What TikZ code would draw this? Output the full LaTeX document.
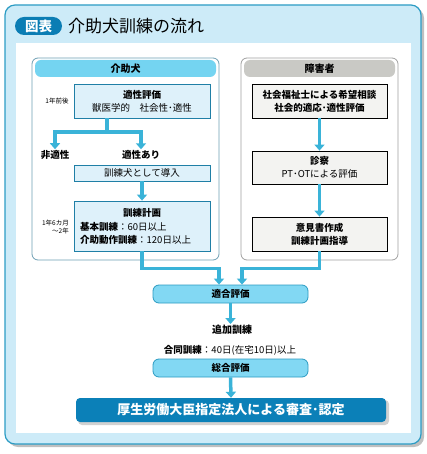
\documentclass[tikz,border=0pt]{standalone}
\usepackage{fontspec}
\setmainfont{Noto Sans CJK JP}
\usetikzlibrary{arrows.meta,calc}
\definecolor{framebg}{HTML}{CDEBF8}
\definecolor{frameline}{HTML}{2C9CC4}
\definecolor{titleblue}{HTML}{0B7DB4}
\definecolor{headblue}{HTML}{74D4F1}
\definecolor{boxblue}{HTML}{DEF1FA}
\definecolor{boxline}{HTML}{1F7FA6}
\definecolor{panelline}{HTML}{6E9FB4}
\definecolor{panelgray}{HTML}{A0A0A0}
\definecolor{arrowc}{HTML}{3AB3D8}
\definecolor{headgray}{HTML}{C9C9C5}
\definecolor{boxgray}{HTML}{F3F3F1}
\definecolor{pillfill}{HTML}{82D8F3}
\definecolor{pillline}{HTML}{2B9BC2}
\definecolor{finalblue}{HTML}{0B80B8}
\tikzset{
  txt/.style={font=\fontsize{9.5}{13}\selectfont, inner sep=1pt},
  btxt/.style={font=\bfseries\fontsize{9.5}{13}\selectfont, inner sep=1pt},
  small/.style={font=\fontsize{6.5}{8}\selectfont, inner sep=0pt},
  bluebox/.style={draw=boxline, fill=boxblue, line width=0.8pt, inner sep=0pt, align=center, font=\fontsize{9.5}{13}\selectfont},
  graybox/.style={draw=black, fill=boxgray, line width=0.8pt, inner sep=0pt, align=center, font=\bfseries\fontsize{9.5}{13}\selectfont},
  panel/.style={draw=#1, fill=white, line width=0.8pt, rounded corners=6pt, inner sep=0pt},
  head/.style={fill=#1, rounded corners=6pt, inner sep=0pt, font=\bfseries\fontsize{10}{12}\selectfont},
  pill/.style={draw=pillline, fill=pillfill, line width=0.8pt, rounded corners=6pt, minimum width=155pt, minimum height=18pt, inner sep=0pt, font=\bfseries\fontsize{9.5}{11}\selectfont},
  flow/.style={draw=arrowc, line width=3.5pt, -{Triangle[width=10pt,length=6pt]}},
}
\begin{document}
\begin{tikzpicture}[x=1pt,y=-1pt]
\useasboundingbox (0,0) rectangle (426,454);
% outer frame
\fill[black!25, rounded corners=10pt] (8,8) rectangle (424,447);
\draw[fill=framebg, draw=frameline, line width=1.2pt, rounded corners=10pt] (5,5) rectangle (421,444);
\fill[white] (16,43) rectangle (411,433);
% title
\node[fill=titleblue, rounded corners=9pt, minimum width=47pt, minimum height=18pt, inner sep=0pt, text=white, font=\bfseries\fontsize{13.5}{15}\selectfont] (tag) at (38.5,26) {図表};
\node[anchor=west, inner sep=0pt, font=\fontsize{17}{19}\selectfont] (title) at (68,26) {介助犬訓練の流れ};
% panels
\node[panel=panelline, minimum width=187pt, minimum height=202pt] (PL) at (125.5,159) {};
\node[head=headblue, minimum width=181pt, minimum height=17pt] (HL) at (125.5,68.5) {介助犬};
\node[panel=panelgray, minimum width=157pt, minimum height=202pt] (PR) at (319.5,159) {};
\node[head=headgray, minimum width=151pt, minimum height=17pt] (HR) at (319.5,68.5) {障害者};
% left boxes
\node[bluebox, minimum width=136pt, minimum height=34pt] (A1) at (142,101) {\textbf{適性評価}\\獣医学的\quad 社会性･適性};
\node[small] (L1) at (57,101) {1年前後};
\coordinate (split) at (107,132);
\node[btxt] (non) at (55,155) {非適性};
\node[btxt] (yes) at (141,155) {適性あり};
\node[bluebox, minimum width=136pt, minimum height=16pt] (A2) at (142,173) {訓練犬として導入};
\node[bluebox, minimum width=136pt, minimum height=50pt] (A3) at (142,226) {};
\node[btxt] (A3t) at (142,213) {訓練計画};
\node[txt, anchor=west] (A3a) at (79,226.5) {\textbf{基本訓練}：60日以上};
\node[txt, anchor=west] (A3b) at (79,240) {\textbf{介助動作訓練}：120日以上};
\node[small, align=right, anchor=east] (L2) at (69,227.5) {1年6カ月\\～2年};
% right boxes
\node[graybox, minimum width=135pt, minimum height=34pt] (B1) at (319.5,101) {社会福祉士による希望相談\\社会的適応･適性評価};
\node[graybox, minimum width=135pt, minimum height=33pt] (B2) at (319.5,167.5) {診察\\\mdseries PT･OTによる評価};
\node[graybox, minimum width=135pt, minimum height=34pt] (B3) at (319.5,234) {意見書作成\\訓練計画指導};
% lower chain
\node[pill] (P1) at (230.5,294) {適合評価};
\node[btxt, font=\bfseries\fontsize{10}{12}\selectfont] (add) at (232,330) {追加訓練};
\node[txt] (joint) at (230,350) {\textbf{合同訓練}：40日(在宅10日)以上};
\node[pill] (P2) at (230.5,368) {総合評価};
\fill[black!18, rounded corners=4pt] (78,400) rectangle (389,425);
\node[fill=finalblue, rounded corners=4pt, minimum width=310pt, minimum height=24pt, inner sep=0pt, text=white, font=\bfseries\fontsize{13}{15}\selectfont] (fin) at (231,410) {厚生労働大臣指定法人による審査･認定};
% connectors
\draw[flow] (A1.south -| split) -- (split) -| (non.north);
\draw[flow] (split) -| (yes.north);
\draw[flow] (A2.south) -- (A3.north);
\draw[flow] (A3.south) -- ++(0,17) -| ($(P1.north)+(-11.5,0)$);
\draw[flow] (B1.south) -- (B2.north);
\draw[flow] (B2.south) -- (B3.north);
\draw[flow] (B3.south) -- ++(0,17) -| ($(P1.north)+(11.5,0)$);
\draw[flow] (P1.south) -- (P1.south |- add.north);
\draw[flow] (P2.south) -- (fin.north);
\end{tikzpicture}
\end{document}
